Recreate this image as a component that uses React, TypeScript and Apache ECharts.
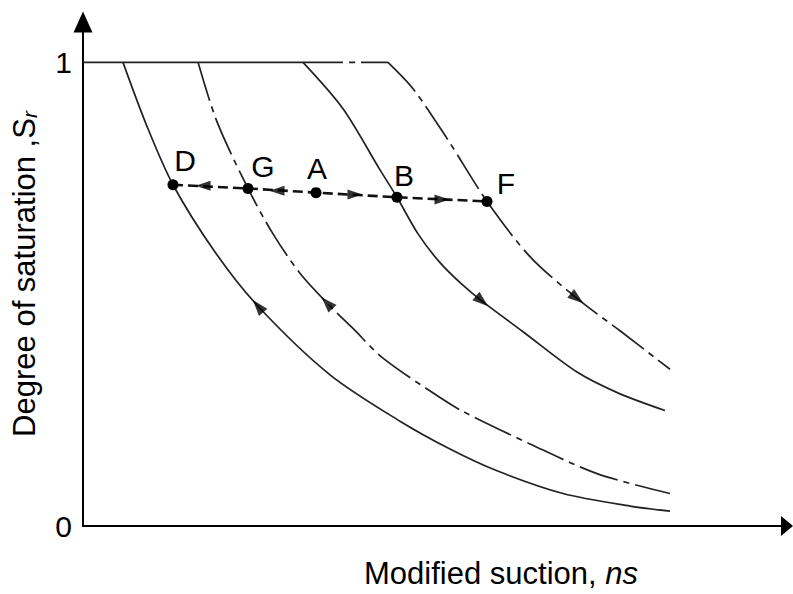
import React, { useEffect, useRef } from "react";
import * as echarts from "echarts";

const FONT = '"Liberation Sans", Arial, Helvetica, sans-serif';

// Wetting / drying curves: [modified suction, degree of saturation]
const TOP_SOLID = [[0, 1], [3.125, 1]];
const TOP_DASHDOT = [[3.125, 1], [4.332, 1]];
const CURVE_D = [[0.568, 1], [0.909, 0.862], [1.278, 0.736], [1.875, 0.591], [2.486, 0.474], [3.509, 0.326], [4.503, 0.226], [5.213, 0.166], [5.881, 0.119], [6.818, 0.07], [7.77, 0.043], [8.338, 0.032]];
const CURVE_G = [[1.634, 1], [1.903, 0.872], [2.344, 0.728], [2.699, 0.63], [3.082, 0.545], [3.466, 0.481], [3.835, 0.426], [4.261, 0.362], [5.071, 0.277], [5.398, 0.247], [6.349, 0.177], [7.301, 0.113], [8.338, 0.07]];
const CURVE_B = [[3.125, 1], [3.693, 0.9], [4.219, 0.768], [4.46, 0.709], [4.759, 0.63], [5.071, 0.568], [5.384, 0.521], [5.668, 0.485], [6.25, 0.419], [7.017, 0.332], [7.628, 0.285], [8.267, 0.249]];
const CURVE_F = [[4.332, 1], [4.688, 0.943], [5.17, 0.836], [5.739, 0.7], [6.349, 0.581], [7.017, 0.491], [7.628, 0.421], [8.338, 0.338]];

// State path D-G-A-B-F
const POINT_NAMES = ["D", "G", "A", "B", "F"];
const POINT_X = [1.278, 2.344, 3.31, 4.46, 5.739];
const POINT_Y = [0.736, 0.728, 0.719, 0.709, 0.7];

// Direction arrows on the path
const PATH_ARROW_X = [1.705, 2.756, 3.864, 5.099];
const PATH_ARROW_Y = [0.734, 0.723, 0.715, 0.704];
const PATH_ARROW_ROT = [90, 90, -90, -90];

// Direction arrows on the curves
const CURVE_ARROW_X = [2.486, 3.466, 5.668, 7.017];
const CURVE_ARROW_Y = [0.474, 0.481, 0.485, 0.491];
const CURVE_ARROW_ROT = [40, 43, -130, -128];

// Axis ticks shown
const Y_TICKS = [0, 1];

const LABEL_OFFSETS = [[12, -24], [15, -22], [1, -24], [7, -22], [19, -18]];

export default function App() {
  const ref = useRef<HTMLDivElement>(null);
  useEffect(() => {
    if (!ref.current) return;
    const chart = echarts.init(ref.current, null, { renderer: "svg" });
    const lineColor = "#222";
    const dashDot = [40, 6, 6, 6];
    const curve = (data: number[][], dashed: boolean) => ({
      type: "line",
      data,
      smooth: 0.3,
      symbol: "none",
      silent: true,
      lineStyle: { color: lineColor, width: 1.7, type: dashed ? dashDot : "solid" },
      z: 2,
    });
    chart.setOption({
      animation: false,
      backgroundColor: "#fff",
      textStyle: { fontFamily: FONT },
      grid: { left: 83, right: 6, top: 22, bottom: 61, containLabel: false },
      xAxis: {
        type: "value",
        min: 0,
        max: 10,
        axisLine: {
          lineStyle: { color: "#000", width: 2 },
          symbol: ["none", "triangle"],
          symbolSize: [20, 12],
        },
        axisTick: { show: false },
        axisLabel: { show: false },
        splitLine: { show: false },
        name: "Modified suction, {i|ns}",
        nameLocation: "middle",
        nameGap: 32,
        nameTextStyle: {
          fontSize: 31,
          color: "#000",
          fontFamily: FONT,
          padding: [0, 0, 0, 132],
          rich: { i: { fontSize: 31, fontStyle: "italic", color: "#000", fontFamily: FONT } },
        },
      },
      yAxis: {
        type: "value",
        min: 0,
        max: 1.087,
        interval: 1,
        axisLine: {
          show: true,
          lineStyle: { color: "#000", width: 2 },
          symbol: ["none", "triangle"],
          symbolSize: [19, 21],
        },
        axisTick: { show: false },
        splitLine: { show: false },
        axisLabel: {
          fontSize: 30,
          color: "#000",
          fontFamily: FONT,
          margin: 11,
          formatter: (v: number) => {
            const t = Y_TICKS.find((k) => Math.abs(k - v) < 1e-6);
            return t === undefined ? "" : String(t);
          },
        },
        name: "Degree of saturation ,{s|S}{r|r}",
        nameLocation: "middle",
        nameRotate: 90,
        nameGap: 43,
        nameTextStyle: {
          fontSize: 31,
          color: "#000",
          fontFamily: FONT,
          rich: {
            s: { fontSize: 31, color: "#000", fontFamily: FONT },
            r: { fontSize: 21, fontStyle: "italic", color: "#000", fontFamily: FONT, verticalAlign: "bottom", lineHeight: 14 },
          },
        },
      },
      series: [
        curve(TOP_SOLID, false),
        curve(TOP_DASHDOT, true),
        curve(CURVE_D, false),
        curve(CURVE_G, true),
        curve(CURVE_B, false),
        curve(CURVE_F, true),
        {
          type: "line",
          data: POINT_NAMES.map((n, i) => ({
            name: n,
            value: [POINT_X[i], POINT_Y[i]],
            label: { offset: LABEL_OFFSETS[i] },
          })),
          symbol: "circle",
          symbolSize: 11,
          silent: true,
          itemStyle: { color: "#000" },
          lineStyle: { color: "#111", width: 2.6, type: [10, 5] },
          label: {
            show: true,
            position: "inside",
            formatter: (p: any) => p.name,
            fontSize: 30,
            color: "#000",
            fontFamily: FONT,
          },
          z: 4,
        },
        {
          type: "scatter",
          data: PATH_ARROW_X.map((x, i) => ({ value: [x, PATH_ARROW_Y[i]], symbolRotate: PATH_ARROW_ROT[i] })),
          symbol: "triangle",
          symbolSize: [10, 15],
          silent: true,
          itemStyle: { color: "#000" },
          z: 5,
        },
        {
          type: "scatter",
          data: CURVE_ARROW_X.map((x, i) => ({ value: [x, CURVE_ARROW_Y[i]], symbolRotate: CURVE_ARROW_ROT[i] })),
          symbol: "triangle",
          symbolSize: [11, 16],
          silent: true,
          itemStyle: { color: "#000" },
          z: 5,
        },
      ],
    });
    return () => chart.dispose();
  }, []);
  return <div ref={ref} style={{ width: 793, height: 594, position: "absolute", left: 0, top: 0 }} />;
}
